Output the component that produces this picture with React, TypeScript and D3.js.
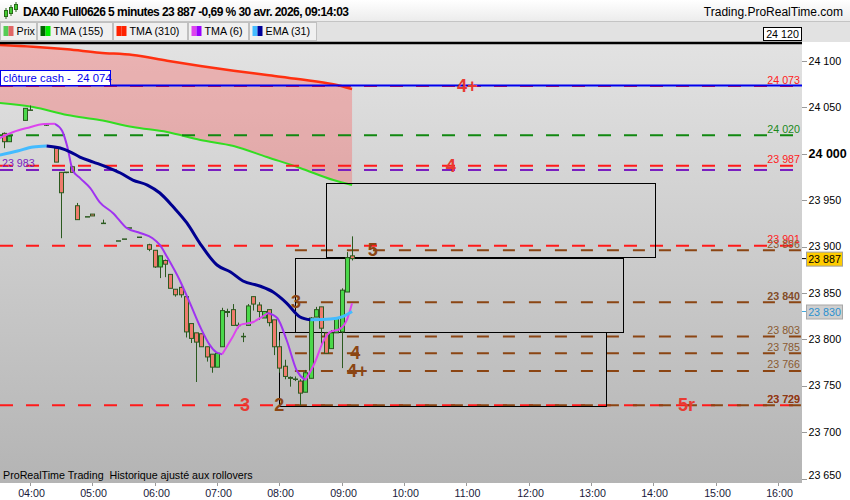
import React from "react";
import * as d3 from "d3";

// ---------------- data ----------------
const barTimes = ["03:35","03:40","03:55","04:00","04:15","04:25","04:30","04:35","04:40","04:45","04:55","05:00","05:10","05:25","05:30","05:35","05:45","05:55","06:00","06:05","06:10","06:15","06:20","06:25","06:30","06:35","06:40","06:45","06:50","06:55","07:00","07:05","07:10","07:15","07:20","07:25","07:30","07:35","07:40","07:45","07:50","07:55","08:00","08:05","08:10","08:15","08:20","08:25","08:30","08:35","08:40","08:45","08:50","08:55","09:00","09:05","09:10"];
const barOpen = [24022,24013,24036,24047,24031,24006,23980,23980,23986,23944,23932,23935,23925,23906,23908,23920,23910,23902,23896,23878,23885,23870,23854,23856,23846,23817,23807,23806,23792,23784,23770,23792,23830,23832,23815,23803,23815,23846,23837,23823,23832,23821,23792,23771,23759,23757,23755,23743,23758,23824,23835,23807,23790,23807,23808,23851,23890];
const barHigh = [24023,24020,24049,24052,24031,24006,23980,23980,23987,23947,23932,23935,23929,23906,23908,23920,23910,23903,23896,23890,23886,23870,23854,23857,23846,23817,23807,23806,23792,23784,23785,23834,23833,23838,23818,23807,23838,23846,23840,23830,23832,23821,23799,23778,23760,23760,23757,23767,23824,23835,23835,23808,23810,23823,23855,23894,23911];
const barLow = [24006,24013,24036,24047,24030,23991,23909,23979,23980,23929,23932,23933,23925,23906,23908,23920,23910,23895,23877,23866,23867,23855,23846,23845,23802,23796,23754,23792,23776,23764,23770,23792,23824,23815,23812,23797,23815,23831,23821,23823,23814,23783,23764,23757,23749,23755,23729,23743,23758,23824,23792,23785,23790,23807,23769,23851,23885];
const barClose = [24013,24019,24049,24047,24031,23991,23958,23980,23980,23929,23932,23933,23925,23906,23908,23920,23910,23897,23878,23890,23881,23855,23848,23848,23808,23801,23797,23792,23781,23770,23785,23831,23829,23815,23815,23803,23836,23838,23830,23830,23818,23792,23769,23760,23758,23757,23742,23764,23823,23832,23812,23785,23807,23823,23853,23888,23887];

const cloudTimes = ["03:31","04:03","04:36","05:07","05:39","06:12","06:44","07:16","07:48","08:20","08:52","09:10"];
const tma310Values = [24117.2,24115.4,24112.6,24109,24106.5,24100.3,24094.6,24089.5,24084.9,24080.3,24074.9,24069.8];
const tma155Values = [24054.7,24050.4,24041.8,24036.4,24028.9,24023.5,24014.9,24008.4,23996.5,23984.7,23971.7,23966.3];

const tma6Times = ["03:31","03:44","03:57","04:14","04:24","04:31","04:36","04:41","04:48","04:58","05:07","05:20","05:33","05:46","05:58","06:05","06:12","06:24","06:34","06:44","06:53","06:59","07:05","07:15","07:22","07:35","07:43","07:49","07:58","08:07","08:17","08:25","08:34","08:42","08:49","08:58","09:05","09:10"];
const tma6Values = [24017,24023.5,24027.8,24032,24032.3,24024.5,24007.3,23982.5,23974,23963,23948,23936,23920,23914.6,23909,23901.7,23888.7,23864,23839,23813,23794,23786.3,23784,23802.5,23815.4,23818.7,23824,23828.4,23823,23799.3,23765.8,23756,23774.5,23797,23808,23811,23821,23839];

const emaTimes = ["03:31","03:48","04:03","04:16","04:29","04:39","04:48","05:01","05:14","05:27","05:39","05:53","06:05","06:18","06:31","06:44","07:00","07:13","07:25","07:41","07:54","08:07","08:20","08:30","08:49","09:01","09:10"];
const emaValues = [23998.7,24003,24007.3,24008.4,24006.2,24001.9,23996.5,23991.1,23985.7,23979.3,23971.7,23966.3,23957.7,23942.6,23925.4,23902.7,23880.1,23872.6,23862.9,23857.5,23851,23839.1,23824.1,23821,23821.8,23824.5,23830];

const topLevel = 24120;
const cashClose = 24073.5;
const cashCloseText = "24 074";
const redLevels = [24073, 23987, 23901, 23729];
const greenLevels = [24020];
const purpleLevels = [23983];
const brownLevels = [23896, 23840, 23803, 23785, 23766, 23729];
const brownStrong = [23840, 23729];
const brownStart = "08:15";

const boxStarts = ["08:45", "08:15", "08:00"];
const boxEnds = ["14:02", "13:31", "13:15"];
const boxTops = [23968, 23888, 23808];
const boxBottoms = [23888, 23808, 23728];

const redMarkTexts = ["4+", "4", "3", "5r"];
const redMarkTimes = ["11:01", "10:45", "07:27", "14:32"];
const redMarkPrices = [24073, 23987, 23729, 23729];
const brownMarkTexts = ["5", "3", "4", "4+", "2"];
const brownMarkTimes = ["09:30", "08:16", "09:13", "09:15", "08:00"];
const brownMarkPrices = [23896, 23840, 23785, 23766, 23729];

const yTickValues = [23650, 23700, 23750, 23800, 23850, 23900, 23950, 24000, 24050, 24100];
const xTickLabels = ["04:00","05:00","06:00","07:00","08:00","09:00","10:00","11:00","12:00","13:00","14:00","15:00","16:00"];

const lastPrice = 23887;
const lastEma = 23830;

const titleText = "DAX40 Full0626 5 minutes 23 887 -0,69 % 30 avr. 2026, 09:14:03";
const legendNames = ["Prix", "TMA (155)", "TMA (310)", "TMA (6)", "EMA (31)"];

// ---------------- helpers ----------------
const W = 850, H = 500;
const PL = 0, PR = 802, PT = 44, PB = 483;
const FONT = "'Liberation Sans', Arial, sans-serif";

const toMin = (s: string) => { const [h, m] = s.split(":").map(Number); return h * 60 + m; };
const fmt = (v: number) => { const r = Math.round(v); return `${Math.floor(r / 1000)} ${String(r % 1000).padStart(3, "0")}`; };

const x = d3.scaleLinear().domain([240, 960]).range([30, 778]);
const y = d3.scaleLinear().domain([23650, 24100]).range([478.5, 61]);

const lineGen = d3.line<[number, number]>().x(d => d[0]).y(d => d[1]).curve(d3.curveMonotoneX);

function runs(times: string[], vals: number[], up: string, down: string) {
  const pts: [number, number][] = times.map((t, i) => [x(toMin(t)), y(vals[i])]);
  const out: { d: string; color: string }[] = [];
  let cur: [number, number][] = [pts[0]];
  let dir = vals[1] >= vals[0];
  for (let i = 1; i < pts.length; i++) {
    const dd = vals[i] >= vals[i - 1];
    if (dd !== dir && cur.length > 1) {
      out.push({ d: lineGen(cur) || "", color: dir ? up : down });
      cur = [pts[i - 1]];
      dir = dd;
    }
    cur.push(pts[i]);
  }
  out.push({ d: lineGen(cur) || "", color: dir ? up : down });
  return out;
}

export default function App() {
  const cloudArea = d3.area<number>()
    .x((_, i) => x(toMin(cloudTimes[i])))
    .y0((_, i) => y(tma155Values[i]))
    .y1((_, i) => y(tma310Values[i]))
    .curve(d3.curveMonotoneX)(cloudTimes.map((_, i) => i)) || "";

  const redRuns = runs(cloudTimes, tma310Values, "#ff3010", "#ff3010");
  const greenRuns = runs(cloudTimes, tma155Values, "#007a00", "#33dd22");
  const tma6Runs = runs(tma6Times, tma6Values, "#dd44ee", "#a033f0");
  const emaRuns = runs(emaTimes, emaValues, "#44bbff", "#000090");

  const tabs = [0, 37, 113, 188, 249, 317];
  const swatches = [["#55cc55", "#e06666"], ["#006600", "#00ee00"], ["#ff2200", "#ff2200"], ["#dd44ee", "#9900ff"], ["#44bbff", "#000099"]];

  const bw = 4;

  return (
    <svg width={W} height={H} style={{ position: "fixed", left: 0, top: 0 }} fontFamily={FONT}>
      <defs>
        <linearGradient id="bg" x1="0" y1="0" x2="0" y2="1">
          <stop offset="0" stopColor="#e2e2e2" />
          <stop offset="1" stopColor="#b4b4b4" />
        </linearGradient>
        <linearGradient id="hdr" x1="0" y1="0" x2="0" y2="1">
          <stop offset="0" stopColor="#ffffff" />
          <stop offset="1" stopColor="#ececec" />
        </linearGradient>
        <clipPath id="plot"><rect x={PL} y={PT} width={PR - PL} height={PB - PT} /></clipPath>
      </defs>
      <rect x={0} y={0} width={W} height={H} fill="#ffffff" />
      {/* header */}
      <rect x={0} y={0} width={W} height={21} fill="url(#hdr)" />
      <line x1={0} x2={W} y1={21.5} y2={21.5} stroke="#c4c4c4" />
      <g stroke="#2a6a1a" strokeWidth={1}>
        <line x1={6} x2={6} y1={8} y2={19} />
        <rect x={4.5} y={10.5} width={3} height={6} fill="#44cc33" />
        <line x1={11} x2={11} y1={5} y2={16} />
        <rect x={9.5} y={7.5} width={3} height={6} fill="#44cc33" />
        <line x1={16} x2={16} y1={2} y2={12} />
        <rect x={14.5} y={4.5} width={3} height={5} fill="#44cc33" />
      </g>
      <text x={23} y={16} fontSize={12} fontWeight="bold" fill="#000" textLength={326} lengthAdjust="spacing">{titleText}</text>
      <text x={843} y={15.5} fontSize={12} textAnchor="end" fill="#000">Trading.ProRealTime.com</text>
      {/* legend row */}
      <rect x={0} y={22} width={W} height={20} fill="#e2e2e2" />
      {legendNames.map((n, i) => (
        <g key={n}>
          <rect x={tabs[i] + 0.5} y={22.5} width={tabs[i + 1] - tabs[i] - 1} height={18} fill="#f0f0f0" stroke="#c0c0c0" />
          <rect x={tabs[i] + 3.5} y={26} width={5} height={10} fill={swatches[i][0]} />
          <rect x={tabs[i] + 8.5} y={26} width={5} height={10} fill={swatches[i][1]} />
          <text x={tabs[i] + 16.5} y={35} fontSize={10.7} fill="#000">{n}</text>
        </g>
      ))}
      {/* plot background */}
      <rect x={PL} y={PT} width={PR - PL} height={PB - PT} fill="url(#bg)" />
      <g clipPath="url(#plot)">
        <path d={cloudArea} fill="rgba(255,70,70,0.3)" />
        {redRuns.map((r, i) => <path key={"r" + i} d={r.d} fill="none" stroke={r.color} strokeWidth={2.5} />)}
        {greenRuns.map((r, i) => <path key={"g" + i} d={r.d} fill="none" stroke={r.color} strokeWidth={2} />)}
        {/* horizontal levels */}
        {redLevels.map(p => <line key={"rl" + p} x1={PL} x2={PR} y1={y(p)} y2={y(p)} stroke="#ff1a1a" strokeWidth={2} strokeDasharray="13,13" />)}
        {greenLevels.map(p => <line key={"gl" + p} x1={PL} x2={PR} y1={y(p)} y2={y(p)} stroke="#118811" strokeWidth={2} strokeDasharray="13,13" />)}
        {purpleLevels.map(p => <line key={"pl" + p} x1={PL} x2={PR} y1={y(p) + 0.5} y2={y(p) + 0.5} stroke="#7a1fc0" strokeWidth={2} strokeDasharray="13,13" />)}
        {brownLevels.map(p => <line key={"bl" + p} x1={x(toMin(brownStart))} x2={PR} y1={y(p)} y2={y(p)} stroke="#8b4513" strokeWidth={2} strokeDasharray="12,14" />)}
        <line x1={PL} x2={PR} y1={y(cashClose)} y2={y(cashClose)} stroke="#0000ee" strokeWidth={2} />
        {/* boxes */}
        {boxStarts.map((s, i) => (
          <rect key={"bx" + i} x={Math.round(x(toMin(s))) + 0.5} y={Math.round(y(boxTops[i])) + 0.5}
            width={Math.round(x(toMin(boxEnds[i])) - x(toMin(s)))} height={Math.round(y(boxBottoms[i]) - y(boxTops[i]))}
            fill="none" stroke="#000" strokeWidth={1} />
        ))}
        {/* candles */}
        {barTimes.map((t, i) => {
          const cx = Math.round(x(toMin(t))) + 0.5;
          const o = barOpen[i], c = barClose[i];
          const top = y(Math.max(o, c)), bot = y(Math.min(o, c));
          const up = c > o;
          const doji = o === c;
          return (
            <g key={"c" + t}>
              <line x1={cx} x2={cx} y1={y(barHigh[i])} y2={y(barLow[i])} stroke="#2b5a1f" strokeWidth={1} />
              {doji ? (
                <line x1={cx - bw / 2 - 0.5} x2={cx + bw / 2 + 0.5} y1={top} y2={top} stroke="#2b5a1f" strokeWidth={1.5} />
              ) : (
                <rect x={cx - bw / 2} y={top} width={bw} height={Math.max(1, bot - top)}
                  fill={up ? "#4ad84a" : "#ef7b6d"} stroke="#2b5a1f" strokeWidth={1} />
              )}
            </g>
          );
        })}
        {/* moving averages */}
        {tma6Runs.map((r, i) => <path key={"t6" + i} d={r.d} fill="none" stroke={r.color} strokeWidth={2} />)}
        {emaRuns.map((r, i) => <path key={"e" + i} d={r.d} fill="none" stroke={r.color} strokeWidth={3} />)}
        {/* level labels */}
        {redLevels.map(p => <text key={"rt" + p} x={800} y={y(p) - 2.5} fontSize={10.7} textAnchor="end" fill="#ff2020">{fmt(p)}</text>)}
        {greenLevels.map(p => <text key={"gt" + p} x={800} y={y(p) - 2.5} fontSize={10.7} textAnchor="end" fill="#1a8a1a">{fmt(p)}</text>)}
        {purpleLevels.map(p => <text key={"pt" + p} x={2} y={y(p) - 3} fontSize={10.7} fill="#7a1fc0">{fmt(p)}</text>)}
        {brownLevels.map(p => {
          const strong = brownStrong.includes(p);
          return <text key={"bt" + p} x={800} y={y(p) - 2.5} fontSize={10.7} textAnchor="end"
            fontWeight={strong ? "bold" : "normal"} fill={strong ? "#7a3c10" : "#8a5a30"} fillOpacity={strong ? 0.9 : 1}>{fmt(p)}</text>;
        })}
        {/* pattern marks */}
        {redMarkTexts.map((t, i) => (
          <text key={"rm" + i} x={x(toMin(redMarkTimes[i]))} y={y(redMarkPrices[i]) + 6} fontSize={18} fontWeight="bold"
            textAnchor="middle" fill="#e83a32">{t}</text>
        ))}
        {brownMarkTexts.map((t, i) => (
          <text key={"bm" + i} x={x(toMin(brownMarkTimes[i]))} y={y(brownMarkPrices[i]) + 6} fontSize={18} fontWeight="bold"
            textAnchor="middle" fill="#8b4513">{t}</text>
        ))}
        <text x={3} y={479} fontSize={10.7} fill="#000">{"ProRealTime Trading\u00a0 Historique ajusté aux rollovers"}</text>
      </g>
      {/* cash close label */}
      <rect x={0.5} y={70.5} width={110} height={15} fill="#fff" stroke="#0000ee" />
      <text x={3} y={82} fontSize={11.3} fill="#0000ee">{"clôture cash -\u00a0 " + cashCloseText}</text>
      {/* top level line */}
      <line x1={PL} x2={PR} y1={y(topLevel) + 0.6} y2={y(topLevel) + 0.6} stroke="#000" strokeWidth={2.5} />
      <rect x={763.5} y={27.5} width={38} height={13} fill="#fff" stroke="#000" />
      <text x={782.5} y={38} fontSize={10.7} textAnchor="middle" fill="#000">{fmt(topLevel)}</text>
      {/* right axis */}
      <rect x={PR} y={PT} width={W - PR} height={PB - PT} fill="#fff" />
      {yTickValues.map(v => (
        <g key={"yt" + v}>
          <line x1={PR} x2={PR + 5} y1={Math.round(y(v)) + 0.5} y2={Math.round(y(v)) + 0.5} stroke="#999" />
          <text x={PR + 6.5} y={v === 23650 ? y(v) - 3.5 : y(v)} dy="0.35em" fontSize={v === 24000 ? 12.5 : 10.7}
            fontWeight={v === 24000 ? "bold" : "normal"} fill="#000">{fmt(v)}</text>
        </g>
      ))}
      <line x1={PR} x2={PR + 5} y1={y(lastPrice)} y2={y(lastPrice)} stroke="#000" />
      <rect x={806.5} y={y(lastPrice) - 6.5} width={36} height={14} fill="#ffcc00" stroke="#a0a0a0" />
      <text x={824.5} y={y(lastPrice) + 0.5} dy="0.35em" fontSize={10.7} textAnchor="middle" fill="#000">{fmt(lastPrice)}</text>
      <line x1={PR} x2={PR + 5} y1={y(lastEma)} y2={y(lastEma)} stroke="#44aadd" />
      <rect x={806.5} y={y(lastEma) - 6.5} width={36} height={14} fill="#cfcfcf" stroke="#a8a8a8" />
      <text x={824.5} y={y(lastEma) + 0.5} dy="0.35em" fontSize={10.7} textAnchor="middle" fill="#2a8fd0">{fmt(lastEma)}</text>
      {/* x axis */}
      {xTickLabels.map(l => {
        const xx = Math.round(x(toMin(l))) + 0.5;
        return (
          <g key={"xt" + l}>
            <line x1={xx} x2={xx} y1={PB} y2={PB + 3} stroke="#999" />
            <text x={xx + 1} y={497} fontSize={10.7} textAnchor="middle" fill="#1a1a3a">{l}</text>
          </g>
        );
      })}
    </svg>
  );
}
